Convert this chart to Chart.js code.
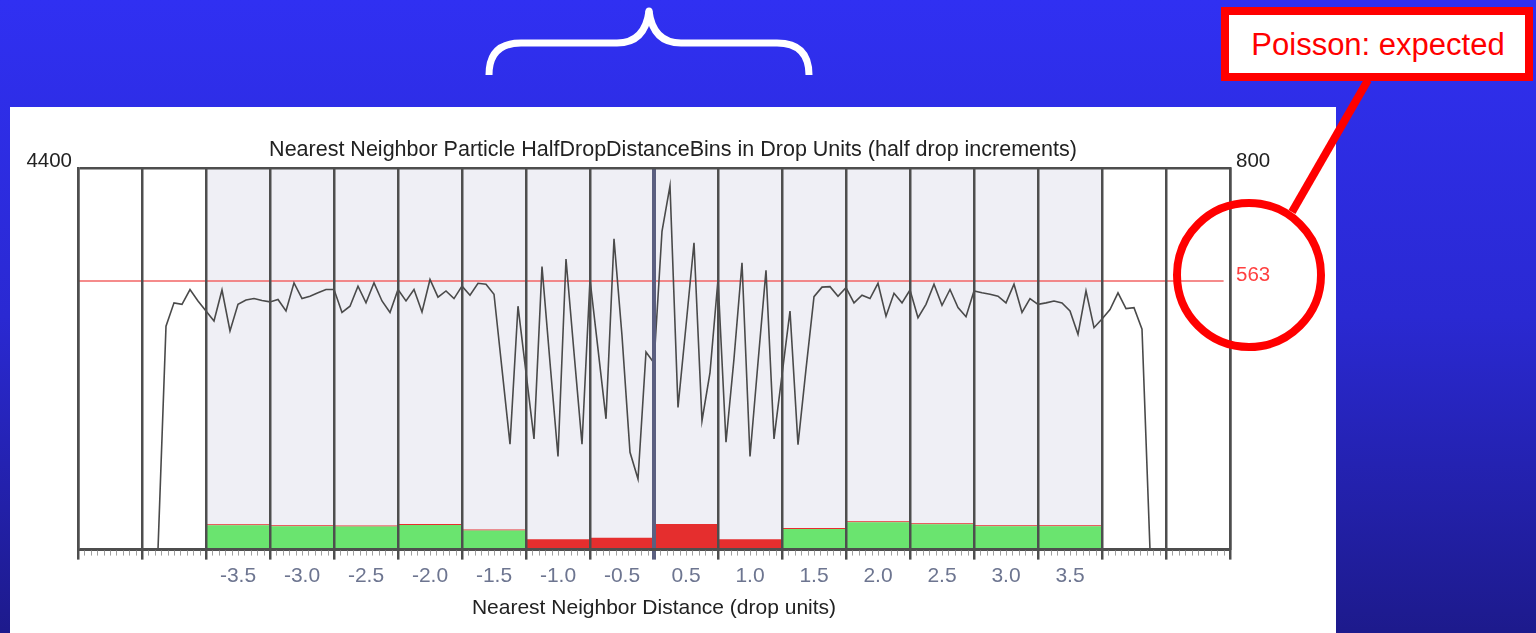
<!DOCTYPE html>
<html lang="en">
<head>
  <meta charset="UTF-8">
  <title>Nearest Neighbor Distance</title>
  <script src="https://cdn.jsdelivr.net/npm/chart.js"></script>
  <style>
    html, body { margin: 0; padding: 0; width: 1536px; height: 633px; overflow: hidden; }
    body { background: linear-gradient(to bottom, #3030f2 0%, #2a29d2 50%, #1d1a8c 100%); position: relative; }
    #panel { position: absolute; left: 10px; top: 107px; width: 1326px; height: 526px; background: #fff; }
    #overlay { position: absolute; left: 0; top: 0; pointer-events: none; }
  </style>
</head>
<body>
  <div id="panel">
    <canvas id="nnChart" width="1326" height="526"></canvas>
  </div>

  <!-- brace over the middle bins + "expected" callout -->
  <svg id="overlay" width="1536" height="633">
    <path d="M489,75 Q489,43 521,43 L617,43 Q645,43 649,11" stroke="#fff" stroke-width="7" fill="none"/>
    <path d="M809,75 Q809,43 777,43 L681,43 Q653,43 649,11" stroke="#fff" stroke-width="7" fill="none"/>
    <circle cx="649" cy="11" r="3.5" fill="#fff"/>
    <line x1="1368" y1="80" x2="1292" y2="212" stroke="#ff0000" stroke-width="8"/>
    <circle cx="1249" cy="275" r="72" stroke="#ff0000" stroke-width="8" fill="none"/>
    <rect x="1225" y="11" width="304" height="66" stroke="#ff0000" stroke-width="8" fill="#fff"/>
    <text x="1378" y="55" text-anchor="middle" fill="#ff0000" font-family="Liberation Sans, Arial, sans-serif" font-size="31">Poisson: expected</text>
  </svg>

  <script>
    // 18 half-drop bins, labels only on the middle 14
    const binLabels = ['', '', '-3.5', '-3.0', '-2.5', '-2.0', '-1.5', '-1.0', '-0.5',
                       '0.5', '1.0', '1.5', '2.0', '2.5', '3.0', '3.5', '', ''];
    const shadedBins = [0, 0, 1, 1, 1, 1, 1, 1, 1, 1, 1, 1, 1, 1, 1, 1, 0, 0];
    // bin counts (left axis, 0-4400)
    const greenCounts = [null, null, 280, 268, 265, 284, 219, null, null, null, null, 238, 314, 291, 268, 268, null, null];
    const redCounts   = [null, null, 12, 12, 12, 12, 12, 118, 138, 295, 118, 12, 12, 12, 12, 12, null, null];
    // nearest neighbour histogram (right axis, 0-800), 8 points per bin
    const nnCounts = [
      0, 0, 0, 0, 0, 0, 0, 0, 0, 0,
      0, 468, 517, 514, 545, 521, 500, 479, 544, 458,
      514, 523, 526, 522, 519, 524, 500, 559, 526, 531,
      538, 545, 545, 497, 510, 552, 517, 559, 521, 497,
      545, 521, 545, 498, 566, 529, 542, 526, 552, 533,
      558, 556, 535, 378, 221, 510, 371, 232, 593, 392,
      195, 609, 413, 221, 566, 420, 274, 651, 448, 204,
      148, 414, 391, 667, 762, 298, 469, 643, 270, 371,
      566, 225, 400, 601, 195, 392, 585, 232, 366, 500,
      220, 378, 530, 550, 551, 531, 549, 517, 533, 526,
      558, 489, 537, 517, 544, 486, 514, 556, 512, 545,
      507, 488, 542, 538, 535, 531, 517, 556, 497, 526,
      514, 517, 521, 517, 500, 451, 542, 465, 483, 503,
      538, 505, 507, 462, 0, 0, 0, 0, 0, 0,
      0, 0, 0, 0, 0
    ];
    const expectedCount = 563;
    const leftMax = 4400;
    const rightMax = 800;

    // x axis runs in tenths of a bin: 0..180
    const binX = i => i * 10 + 5;
    const pointStep = 10 / 8;

    const FONT = 'Liberation Sans, Arial, sans-serif';
    const GRID = '#4e4e4e';
    const tickVal = c => (c.tick ? c.tick.value : 0);

    const minorTicks = {
      id: 'minorTicks',
      afterDraw(chart) {
        const x = chart.scales.x;
        const ctx = chart.ctx;
        ctx.save();
        ctx.strokeStyle = '#a0a0a0';
        ctx.lineWidth = 1;
        ctx.beginPath();
        for (let v = 0; v <= 180; v++) {
          if (v % 10 === 0) continue;
          const px = Math.round(x.getPixelForValue(v)) + 0.5;
          ctx.moveTo(px, x.top + 1);
          ctx.lineTo(px, x.top + 6);
        }
        ctx.stroke();
        ctx.restore();
      }
    };

    const barStyle = { grouped: false, barPercentage: 2, categoryPercentage: 1, yAxisID: 'y' };

    new Chart(document.getElementById('nnChart'), {
      type: 'bar',
      data: {
        datasets: [
          {
            type: 'line',
            data: nnCounts.map((v, k) => ({ x: k * pointStep, y: v })),
            yAxisID: 'y2',
            borderColor: '#4a4a4a',
            borderWidth: 1.6,
            pointRadius: 0,
            tension: 0,
            order: 0
          },
          {
            type: 'line',
            data: [{ x: 0, y: expectedCount }, { x: 179, y: expectedCount }],
            yAxisID: 'y2',
            borderColor: '#f26464',
            borderWidth: 1.5,
            pointRadius: 0,
            order: 1
          },
          Object.assign({
            data: redCounts.map((v, i) => ({ x: binX(i), y: v })),
            stack: 'obs',
            backgroundColor: '#e52e2e',
            order: 3
          }, barStyle),
          Object.assign({
            data: greenCounts.map((v, i) => ({ x: binX(i), y: v })),
            stack: 'obs',
            backgroundColor: '#6ae46f',
            order: 2
          }, barStyle),
          Object.assign({
            data: shadedBins.map((s, i) => ({ x: binX(i), y: s ? leftMax : null })),
            stack: 'shade',
            backgroundColor: '#efeff5',
            order: 10
          }, barStyle)
        ]
      },
      options: {
        responsive: false,
        animation: false,
        devicePixelRatio: 1,
        layout: { padding: 0 },
        plugins: {
          legend: { display: false },
          tooltip: { enabled: false },
          title: {
            display: true,
            text: 'Nearest Neighbor Particle HalfDropDistanceBins in Drop Units (half drop increments)',
            color: '#222',
            font: { family: FONT, size: 21.5, weight: 'normal' },
            padding: { top: 30, bottom: 5 }
          }
        },
        scales: {
          x: {
            type: 'linear',
            min: 0,
            max: 180,
            offset: false,
            position: 'bottom',
            ticks: {
              stepSize: 5,
              autoSkip: false,
              maxRotation: 0,
              padding: 4,
              color: '#6d7590',
              font: { family: FONT, size: 21 },
              callback: v => (v % 10 === 5 ? binLabels[(v - 5) / 10] : '')
            },
            grid: {
              offset: false,
              z: 1,
              tickLength: 10,
              color: c => (tickVal(c) % 10 !== 0 ? 'rgba(0,0,0,0)' : (tickVal(c) === 90 ? '#5b5f80' : GRID)),
              lineWidth: c => (tickVal(c) === 90 ? 4 : 2.5)
            },
            border: { display: true, color: GRID, width: 2, z: 1 },
            title: {
              display: true,
              text: 'Nearest Neighbor Distance (drop units)',
              color: '#222',
              font: { family: FONT, size: 21 },
              padding: { top: 3, bottom: 12 }
            }
          },
          y: {
            position: 'left',
            stacked: true,
            min: 0,
            max: leftMax,
            afterBuildTicks: s => { s.ticks = [{ value: 0 }, { value: leftMax }]; },
            afterFit: s => { s.width = 68; },
            ticks: {
              padding: 6,
              labelOffset: -6,
              color: '#222',
              font: { family: FONT, size: 20.5 },
              callback: v => (v === leftMax ? String(v) : '')
            },
            grid: { z: 1, drawTicks: false, color: GRID, lineWidth: 2.5 },
            border: { display: true, color: GRID, width: 2.5, z: 1 }
          },
          y2: {
            position: 'right',
            min: 0,
            max: rightMax,
            afterBuildTicks: s => { s.ticks = [{ value: expectedCount }, { value: rightMax }]; },
            afterFit: s => { s.width = 106; },
            ticks: {
              padding: 6,
              labelOffset: -6,
              font: { family: FONT, size: 20.5 },
              color: c => (tickVal(c) === expectedCount ? '#ff4040' : '#222'),
              callback: v => String(v)
            },
            grid: { drawOnChartArea: false, drawTicks: false },
            border: { display: true, color: GRID, width: 2.5, z: 1 }
          }
        }
      },
      plugins: [minorTicks]
    });
  </script>
</body>
</html>
